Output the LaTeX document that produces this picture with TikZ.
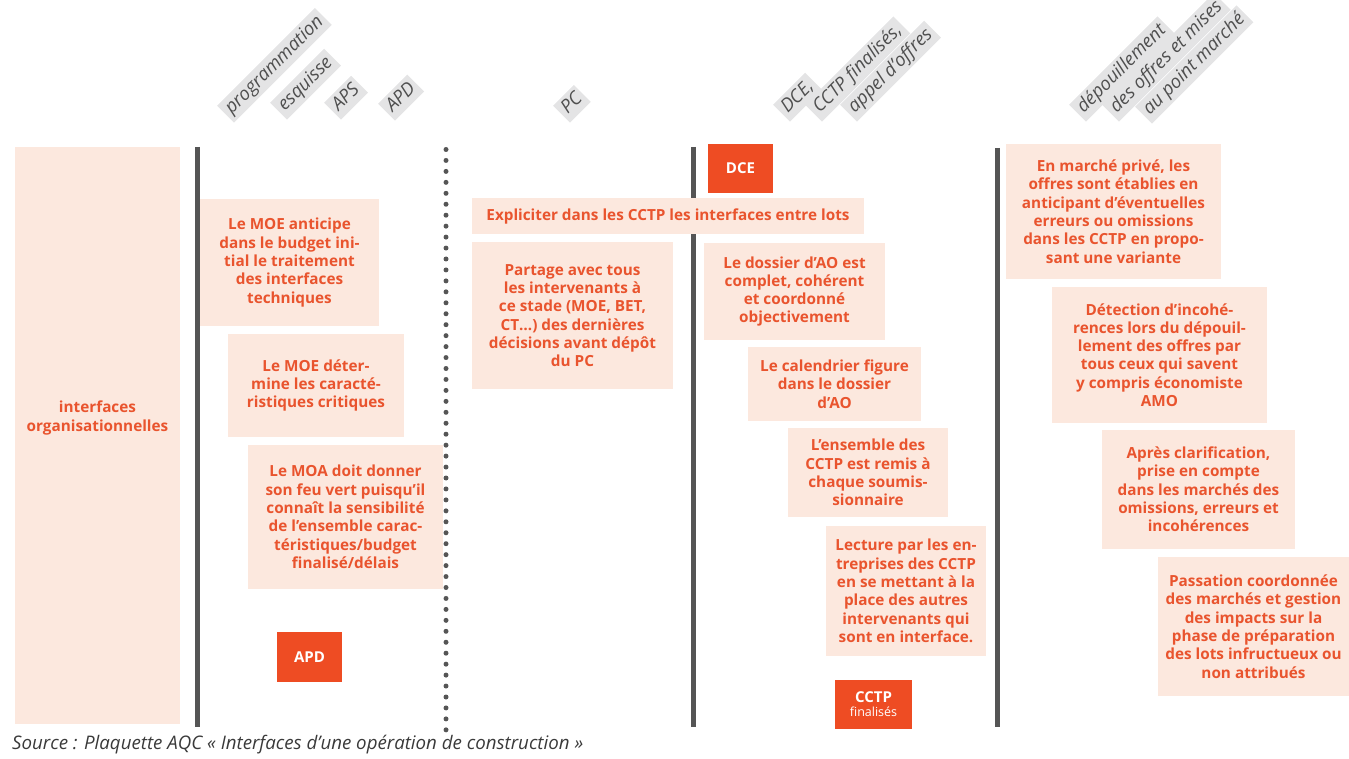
\documentclass[tikz,border=0pt]{standalone}
\usepackage{fontspec}
\setmainfont{Open Sans}
\definecolor{pale}{HTML}{FCE8DE}
\definecolor{orng}{HTML}{E9542E}
\definecolor{redc}{HTML}{EE4C23}
\definecolor{labg}{HTML}{E4E4E5}
\definecolor{labt}{HTML}{4F4F4F}
\definecolor{lineg}{HTML}{555555}
\definecolor{srcg}{HTML}{3A3A3A}
\begin{document}
\begin{tikzpicture}[x=1pt,y=-1pt,
  tbox/.style={fill=pale, text=orng, font=\bfseries\fontsize{15.3}{18.3}\selectfont, align=center, inner sep=0pt},
  redbox/.style={fill=redc, text=white, font=\bfseries\fontsize{15}{15}\selectfont, align=center, inner sep=0pt},
  lab/.style={fill=labg, text=labt, font=\itshape\fontsize{18.5}{18.5}\selectfont, rotate=45, anchor=south west, inner xsep=4pt, inner ysep=0pt, text height=15pt, text depth=5pt, minimum height=24pt},
  vline/.style={line width=5pt, draw=lineg},
  dotline/.style={line width=5pt, draw=lineg, line cap=round, dash pattern=on 0pt off 10.95pt}]
\useasboundingbox (0,0) rectangle (1349,759);

% header labels
\node[lab] (l1) at (234,123) {programmation};
\node[lab] (l2) at (287,120) {esquisse};
\node[lab] (l3) at (341,120) {APS};
\node[lab] (l4) at (395,121) {APD};
\node[lab] (l5) at (570,123) {PC};
\node[lab] (l6) at (790,122) {DCE,};
\node[lab] (l7) at (822,122) {CCTP finalisés,};
\node[lab] (l8) at (857,122) {appel d'offres};
\node[lab] (l9) at (1086,122) {dépouillement};
\node[lab] (l10) at (1119,122) {des offres et mises};
\node[lab] (l11) at (1152,124) {au point marché};

% vertical lines
\draw[vline] (197,147) -- (197,727);
\draw[dotline] (446,149.5) -- (446,731);
\draw[vline] (693,147) -- (693,727);
\draw[vline] (997,148) -- (997,727);

% left column
\node[fill=pale, minimum width=165pt, minimum height=577pt, inner sep=0pt] (left) at (97.5,435.5) {};
\node[text=orng, font=\bfseries\fontsize{15.3}{18.3}\selectfont, align=center] (lefttxt) at (97.5,418) {interfaces\\organisationnelles};

% column 1
\node[tbox, minimum width=179pt, minimum height=127pt] (b1) at (289.5,262.5) {Le MOE anticipe\\dans le budget ini-\\tial le traitement\\des interfaces\\techniques};
\node[tbox, minimum width=176pt, minimum height=103pt] (b2) at (316,385.5) {Le MOE déter-\\mine les caracté-\\ristiques critiques};
\node[tbox, minimum width=195pt, minimum height=144pt] (b3) at (345.5,517) {Le MOA doit donner\\son feu vert puisqu’il\\connaît la sensibilité\\de l’ensemble carac-\\téristiques/budget\\finalisé/délais};
\node[redbox, minimum width=65pt, minimum height=50pt] (apd) at (309.5,657) {APD};

% column 2
\node[tbox, minimum width=392pt, minimum height=36pt] (expl) at (668,216) {Expliciter dans les CCTP les interfaces entre lots};
\node[tbox, minimum width=201pt, minimum height=147pt] (part) at (572.5,315.5) {Partage avec tous\\les intervenants à\\ce stade (MOE, BET,\\CT…) des dernières\\décisions avant dépôt\\du PC};

% column 3
\node[redbox, minimum width=65pt, minimum height=49pt] (dce) at (740.5,168.5) {DCE};
\node[tbox, minimum width=181pt, minimum height=97pt] (doss) at (794.5,291.5) {Le dossier d’AO est\\complet, cohérent\\et coordonné\\objectivement};
\node[tbox, minimum width=173pt, minimum height=74pt] (cal) at (834.5,384) {Le calendrier figure\\dans le dossier\\d’AO};
\node[tbox, minimum width=160pt, minimum height=89pt] (ens) at (868,472.5) {L’ensemble des\\CCTP est remis à\\chaque soumis-\\sionnaire};
\node[tbox, minimum width=160pt, minimum height=130pt] (lect) at (906,591) {Lecture par les en-\\treprises des CCTP\\en se mettant à la\\place des autres\\intervenants qui\\sont en interface.};
\node[redbox, minimum width=77pt, minimum height=49pt] (cctp) at (873.5,704.5) {CCTP\\[-1pt]{\mdseries\fontsize{12.5}{13}\selectfont finalisés}};

% column 4
\node[tbox, minimum width=215pt, minimum height=135pt] (priv) at (1113.5,211.5) {En marché privé, les\\offres sont établies en\\anticipant d’éventuelles\\erreurs ou omissions\\dans les CCTP en propo-\\sant une variante};
\node[tbox, minimum width=215pt, minimum height=136pt] (det) at (1159.5,355) {Détection d’incohé-\\rences lors du dépouil-\\lement des offres par\\tous ceux qui savent\\y compris économiste\\AMO};
\node[tbox, minimum width=193pt, minimum height=119pt] (apres) at (1198.5,489.5) {Après clarification,\\prise en compte\\dans les marchés des\\omissions, erreurs et\\incohérences};
\node[tbox, minimum width=191pt, minimum height=139pt] (pass) at (1253.5,626.5) {Passation coordonnée\\des marchés et gestion\\des impacts sur la\\phase de préparation\\des lots infructueux ou\\non attribués};

% source
\node[anchor=west, text=srcg, font=\itshape\fontsize{18.7}{18.7}\selectfont, inner sep=0pt] (src) at (12,745) {Source : Plaquette AQC « Interfaces d’une opération de construction »};
\end{tikzpicture}
\end{document}
